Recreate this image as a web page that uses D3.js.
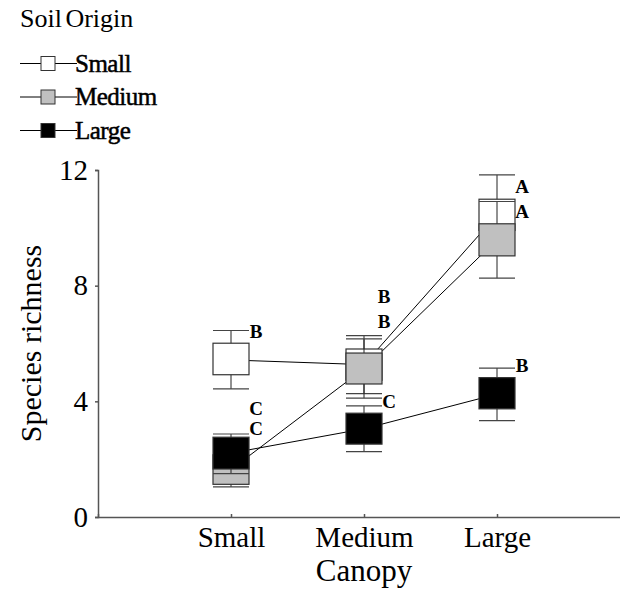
<!DOCTYPE html>
<html>
<head>
<meta charset="utf-8">
<script src="https://cdn.jsdelivr.net/npm/d3@7/dist/d3.min.js"></script>
<style>
  html, body { margin: 0; padding: 0; background: #fff; }
  svg { display: block; }
  svg text { font-family: "Liberation Serif", "Times New Roman", serif !important; fill: #000; }
</style>
</head>
<body>
<svg id="chart" width="620" height="592" font-family="Liberation Serif, serif"></svg>
<script>
// Canopy classes along the x axis
const canopy = ["Small", "Medium", "Large"];

// Soil origin series
const soilOrigin = ["Small", "Medium", "Large"];
const soilFill = ["#ffffff", "#c0c0c0", "#000000"];

// Mean species richness per soil origin (rows) and canopy (columns)
const means      = [[5.43, 5.27, 10.45], [1.64, 5.13, 9.59], [2.21, 3.05, 4.25]];
// Box: lower and upper bound
const boxLow     = [[4.92, 4.73, 9.91],  [1.13, 4.60, 9.03], [1.66, 2.52, 3.74]];
const boxHigh    = [[6.01, 5.81, 10.99], [2.15, 5.67, 10.14], [2.76, 3.59, 4.82]];
// Whiskers: lower and upper bound
const whiskLow   = [[4.43, 4.27, 9.07],  [1.04, 4.11, 8.26], [1.50, 2.26, 3.33]];
const whiskHigh  = [[6.45, 6.27, 11.83], [2.24, 6.16, 10.91], [2.87, 3.84, 5.15]];

// Group letters: text, canopy index, value where the letter sits
const letterText   = ["B", "C", "C", "B", "B", "C", "A", "A", "B"];
const letterCanopy = [0, 0, 0, 1, 1, 1, 2, 2, 2];
const letterValue  = [6.43, 3.76, 3.07, 7.62, 6.78, 3.99, 11.43, 10.56, 5.26];

const yTicks = [0, 4, 8, 12];

const svg = d3.select("#chart");
const serif = '"Liberation Serif", "Times New Roman", serif';

const x = d3.scaleLinear().domain([0, 4]).range([98, 630]);
const y = d3.scaleLinear().domain([0, 12]).range([517, 170]);
const boxW = 36;
const axisColor = "#555";

// Y axis
const yAxis = svg.append("g")
  .attr("transform", `translate(${x(0)},0)`)
  .call(d3.axisLeft(y).tickValues(yTicks).tickSize(3).tickPadding(7).tickFormat(d3.format("d")));
yAxis.attr("font-family", serif);
yAxis.select(".domain").attr("stroke", axisColor).attr("stroke-width", 1.5);
yAxis.selectAll(".tick line").attr("stroke", axisColor).attr("stroke-width", 1.5);
yAxis.selectAll(".tick text")
  .attr("font-family", serif)
  .style("font-size", "29px").attr("fill", "#000");

// X axis
const xAxis = svg.append("g")
  .attr("transform", `translate(0,${y(0)})`)
  .call(d3.axisTop(x).tickValues([1, 2, 3]).tickSize(3).tickFormat(d => canopy[d - 1]));
xAxis.attr("font-family", serif);
xAxis.select(".domain").attr("stroke", axisColor).attr("stroke-width", 1.5);
xAxis.selectAll(".tick line").attr("stroke", axisColor).attr("stroke-width", 1.5);
xAxis.selectAll(".tick text")
  .attr("y", 30).attr("dy", 0)
  .attr("font-family", serif)
  .style("font-size", "29px").attr("fill", "#000");

// Axis titles
svg.append("text")
  .attr("x", x(2)).attr("y", 581)
  .attr("text-anchor", "middle")
  .attr("font-family", serif)
  .style("font-size", "31px")
  .text("Canopy");

svg.append("text")
  .attr("transform", `translate(41,${(y(0) + y(12)) / 2}) rotate(-90)`)
  .attr("text-anchor", "middle")
  .attr("font-family", serif)
  .style("font-size", "30px")
  .text("Species richness");

// Connecting lines between means
const line = d3.line().x((d, i) => x(i + 1)).y(d => y(d));
const plot = svg.append("g");
plot.selectAll("path.link")
  .data(means)
  .join("path")
  .attr("class", "link")
  .attr("d", line)
  .attr("fill", "none")
  .attr("stroke", "#000")
  .attr("stroke-width", 1);

// Whiskers and boxes, one soil origin after another
soilOrigin.forEach((s, si) => {
  const g = plot.append("g");
  canopy.forEach((c, ci) => {
    const cx = x(ci + 1);
    g.append("line")
      .attr("x1", cx).attr("x2", cx)
      .attr("y1", y(whiskLow[si][ci])).attr("y2", y(whiskHigh[si][ci]))
      .attr("stroke", "#222").attr("stroke-width", 1);
    [whiskLow[si][ci], whiskHigh[si][ci]].forEach(v => {
      g.append("line")
        .attr("x1", cx - boxW / 2).attr("x2", cx + boxW / 2)
        .attr("y1", y(v)).attr("y2", y(v))
        .attr("stroke", "#444").attr("stroke-width", 1.2);
    });
    g.append("rect")
      .attr("x", cx - boxW / 2)
      .attr("y", y(boxHigh[si][ci]))
      .attr("width", boxW)
      .attr("height", y(boxLow[si][ci]) - y(boxHigh[si][ci]))
      .attr("fill", soilFill[si])
      .attr("stroke", "#333").attr("stroke-width", 1.2);
  });
});

// Group letters; the stacked pair above the middle canopy sits a little closer to its boxes
svg.append("g").selectAll("text")
  .data(letterText)
  .join("text")
  .attr("x", (d, i) => x(letterCanopy[i] + 1) + (letterCanopy[i] === 1 && d === "B" ? 20 : 25))
  .attr("y", (d, i) => y(letterValue[i]))
  .attr("dy", "0.35em")
  .attr("text-anchor", "middle")
  .attr("font-family", serif)
  .style("font-size", "19px")
  .style("font-weight", "bold")
  .text(d => d);

// Legend
const legend = svg.append("g").attr("font-family", serif);
legend.append("text")
  .attr("x", 20).attr("y", 27)
  .attr("font-family", serif)
  .style("font-size", "26px")
  .style("word-spacing", "-3px")
  .text("Soil Origin");

const legendY = [63.5, 97, 130.5];
soilOrigin.forEach((s, i) => {
  const gy = legendY[i];
  legend.append("line")
    .attr("x1", 20).attr("x2", 77)
    .attr("y1", gy).attr("y2", gy)
    .attr("stroke", "#000").attr("stroke-width", 1);
  legend.append("rect")
    .attr("x", 41).attr("y", gy - 7)
    .attr("width", 14).attr("height", 14)
    .attr("fill", soilFill[i])
    .attr("stroke", "#333").attr("stroke-width", 1);
  legend.append("text")
    .attr("x", 75).attr("y", gy + 8)
    .attr("font-family", serif)
    .style("font-size", "25px")
    .style("letter-spacing", "-0.5px")
    .attr("stroke", "#000").attr("stroke-width", 0.5)
    .text(s);
});
</script>
</body>
</html>
